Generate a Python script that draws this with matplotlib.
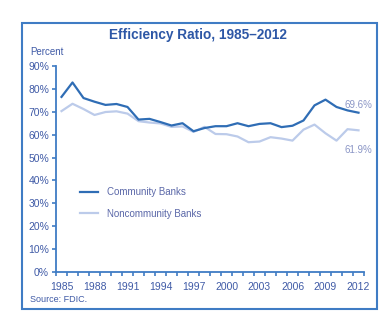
import numpy as np
import matplotlib
matplotlib.use('Agg')
import matplotlib.pyplot as plt
from matplotlib.patches import Rectangle
from matplotlib.ticker import FixedLocator, FuncFormatter

plt.rcParams['font.family'] = ['Liberation Sans', 'DejaVu Sans']

years = np.arange(1985, 2013)
community = [76.5, 82.8, 76.0, 74.4, 73.0, 73.4, 72.1, 66.6, 66.9, 65.5,
             64.0, 65.0, 61.5, 62.9, 63.7, 63.7, 65.0, 63.7, 64.7, 65.0,
             63.3, 63.9, 66.2, 72.8, 75.3, 72.1, 70.6, 69.6]
noncommunity = [70.3, 73.5, 71.2, 68.6, 69.9, 70.2, 69.2, 65.9, 65.3, 64.9,
                63.4, 63.6, 61.2, 63.4, 60.3, 60.2, 59.2, 56.7, 57.0, 58.9,
                58.3, 57.4, 62.2, 64.4, 60.6, 57.4, 62.4, 61.9]
year_labels = np.arange(1985, 2013, 3)
y_ticks = np.arange(0, 91, 10)

dark = '#2f6db5'
light = '#bccbea'
frame = '#3f7cc4'
txt = '#3f5aa6'

W, H = 392, 324
fig = plt.figure(figsize=(W / 100, H / 100), dpi=100)
ax = fig.add_axes([56 / W, (H - 272) / H, 308 / W, 206 / H])

ax.plot(years, noncommunity, color=light, lw=1.6, label='Noncommunity Banks')
ax.plot(years, community, color=dark, lw=1.6, label='Community Banks')

ax.set_xlim(1984.5, 2012.5)
ax.set_ylim(0, 90)

for s in ['top', 'right']:
    ax.spines[s].set_visible(False)
for s in ['left', 'bottom']:
    ax.spines[s].set_color(frame)
    ax.spines[s].set_linewidth(1.3)

ax.xaxis.set_major_locator(FixedLocator(year_labels))
ax.xaxis.set_minor_locator(FixedLocator(np.arange(1984.5, 2013, 1)))
ax.tick_params(axis='x', which='major', length=0, pad=7, labelsize=7.5, labelcolor=txt)
ax.tick_params(axis='x', which='minor', length=3, width=1.2, color=frame, direction='out')
ax.set_yticks(y_ticks)
ax.yaxis.set_major_formatter(FuncFormatter(lambda v, p: '%d%%' % v))
ax.tick_params(axis='y', length=3, width=1.2, color=frame, labelsize=7.5, labelcolor=txt, pad=2)

ax.text(2012, community[-1] + 3.4, '69.6%', color='#8b96c6', fontsize=7, ha='center', va='center')
ax.text(2012, noncommunity[-1] - 8.6, '61.9%', color='#8b96c6', fontsize=7, ha='center', va='center')

h, l = ax.get_legend_handles_labels()
leg = ax.legend(h[::-1], l[::-1], loc='upper left', bbox_to_anchor=(0.05, 0.455), frameon=False,
                fontsize=7, handlelength=1.8, labelspacing=1.2, handletextpad=1.0)
for t in leg.get_texts():
    t.set_color('#5a67a8')

fig.text(198 / W, 1 - 35 / H, 'Efficiency Ratio, 1985\u20132012', ha='center', va='center',
         fontsize=9.8, fontweight='bold', color='#2d57a6')
fig.text(30 / W, 1 - 52 / H, 'Percent', ha='left', va='center', fontsize=7, color=txt)
fig.text(30 / W, 1 - 300 / H, 'Source: FDIC.', ha='left', va='center', fontsize=6.5, color=txt)

fig.patches.append(Rectangle((22 / W, 1 - 309 / H), 355 / W, 286 / H, transform=fig.transFigure,
                             fill=False, edgecolor=frame, lw=1.5))

fig.savefig('out.png', dpi=100)
